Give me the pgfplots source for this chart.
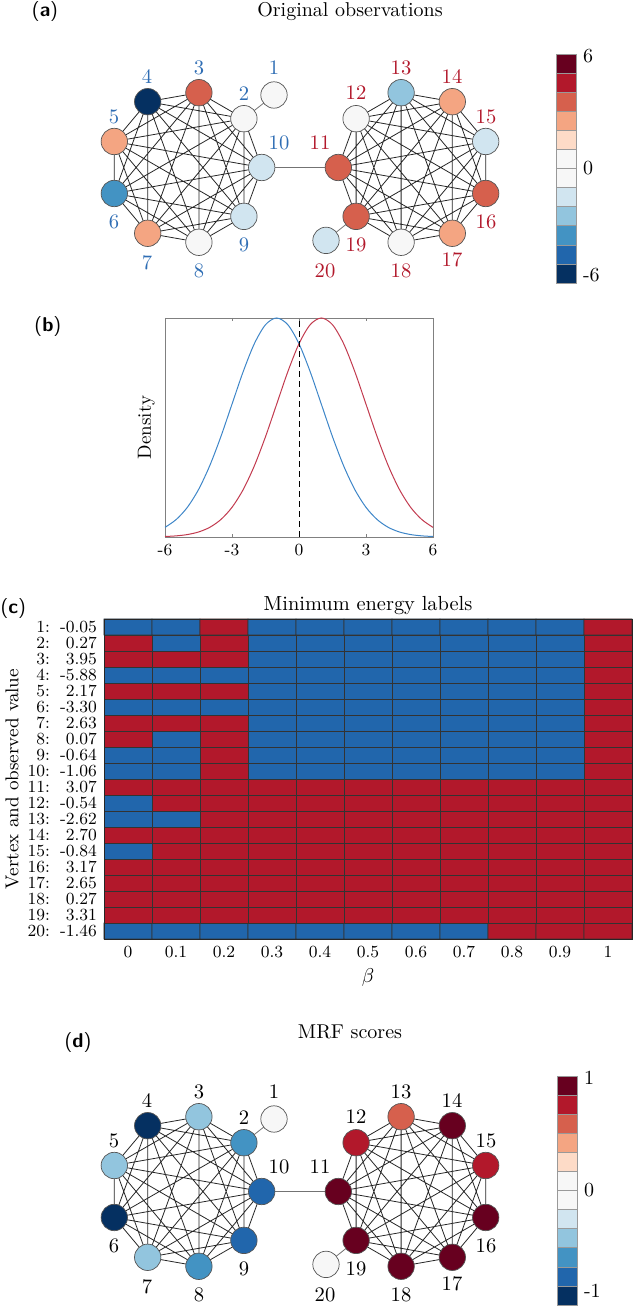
\documentclass[border=0pt]{standalone}
\usepackage{pgfplots}
\pgfplotsset{compat=1.18}
\usepackage{pgfplotstable}
\definecolor{c1}{HTML}{053061}
\definecolor{c2}{HTML}{2166AC}
\definecolor{c3}{HTML}{4393C3}
\definecolor{c4}{HTML}{92C5DE}
\definecolor{c5}{HTML}{D1E5F0}
\definecolor{c6}{HTML}{F7F7F7}
\definecolor{c7}{HTML}{F7F7F7}
\definecolor{c8}{HTML}{FDDBC7}
\definecolor{c9}{HTML}{F4A582}
\definecolor{c10}{HTML}{D6604D}
\definecolor{c11}{HTML}{B2182B}
\definecolor{c12}{HTML}{67001F}
\definecolor{nodeedge}{HTML}{555555}
\definecolor{labblue}{HTML}{2E6DB4}
\definecolor{labred}{HTML}{B2182B}
\definecolor{cellblue}{HTML}{2166AC}
\definecolor{cellred}{HTML}{B2182B}
\definecolor{curveblue}{HTML}{3E86C8}
\definecolor{curvered}{HTML}{C23B4F}
\newcommand{\fs}[1]{\fontsize{#1}{#1}\selectfont}
\newcommand{\vl}[2]{\makebox[11.5pt][r]{#1:}\makebox[23.5pt][r]{#2}}

\pgfplotsset{
 graphax/.style={scale only axis, width=316.5pt, height=145pt, xmin=0, xmax=633,
   ymin=-290, ymax=0, hide axis, clip=false, anchor=south west},
 nodecls/.style={scatter, only marks, mark=*, mark size=6.6pt, point meta=explicit symbolic,
   scatter/classes={
     k1={fill=c1,draw=nodeedge}, k2={fill=c2,draw=nodeedge}, k3={fill=c3,draw=nodeedge},
     k4={fill=c4,draw=nodeedge}, k5={fill=c5,draw=nodeedge}, k6={fill=c6,draw=nodeedge},
     k8={fill=c8,draw=nodeedge}, k9={fill=c9,draw=nodeedge}, k10={fill=c10,draw=nodeedge},
     k11={fill=c11,draw=nodeedge}, k12={fill=c12,draw=nodeedge}},
   every mark/.append style={line width=0.35pt}},
 labcls/.style={only marks, mark=none, point meta=explicit symbolic, nodes near coords,
   every node near coord/.style={anchor=center, inner sep=0pt, font=\fs{10.3}, text=#1}},
 cbar/.style={scale only axis, width=10pt, height=114.5pt, anchor=south west,
   xmin=-0.5, xmax=0.5, ymin=0, ymax=12, ybar stacked, bar width=10pt,
   xtick=\empty, ytick={0.4,6,11.9}, yticklabel pos=right, axis line style={draw=none},
   major tick length=0pt, tick label style={font=\fs{10}}, clip=false,
   every axis plot/.append style={draw=black!40, line width=0.3pt}},
}

\pgfplotstableread{
x y ca cd
274.0 -95.0 k6 k6
243.9 -118.7 k6 k3
198.9 -92.7 k10 k4
147.7 -101.7 k1 k1
114.3 -141.5 k9 k4
114.3 -193.5 k3 k1
147.7 -233.3 k9 k4
198.9 -242.3 k6 k3
243.9 -216.4 k5 k2
261.7 -167.5 k5 k2
338.3 -167.5 k10 k12
356.1 -118.7 k6 k11
401.1 -92.7 k4 k10
452.3 -101.7 k9 k12
485.7 -141.5 k5 k11
485.7 -193.5 k10 k12
452.3 -233.3 k9 k12
401.1 -242.3 k6 k12
356.1 -216.4 k10 k12
326.0 -240.4 k5 k6
}\nodetab

\pgfplotstableread{
x y lab
274 -68 1
244 -94 2
199 -68 3
147 -77 4
114 -117 5
114 -222 6
147 -263 7
199 -271 8
244 -245 9
279 -143 10
}\labL
\pgfplotstableread{
x y lab
320 -143 11
356 -93 12
401 -68 13
452 -77 14
486 -117 15
486 -222 16
452 -260 17
401 -271 18
356 -245 19
325 -271 20
}\labR

\pgfplotstableread{
x y
261.7 -167.5
243.9 -118.7
114.3 -141.5
198.9 -242.3
243.9 -118.7
198.9 -92.7
114.3 -193.5
243.9 -216.4
198.9 -92.7
147.7 -101.7
114.3 -141.5
114.3 -193.5
147.7 -233.3
198.9 -242.3
243.9 -216.4
261.7 -167.5
198.9 -92.7
114.3 -141.5
147.7 -233.3
243.9 -216.4
243.9 -118.7
147.7 -101.7
114.3 -193.5
198.9 -242.3
261.7 -167.5
114.3 -141.5
243.9 -216.4
147.7 -101.7
198.9 -242.3
198.9 -92.7
147.7 -233.3
243.9 -118.7
114.3 -193.5
261.7 -167.5
147.7 -101.7
147.7 -233.3
261.7 -167.5
}\edgeL

\pgfplotstableread{
x y
338.3 -167.5
356.1 -118.7
485.7 -141.5
401.1 -242.3
356.1 -118.7
401.1 -92.7
485.7 -193.5
356.1 -216.4
401.1 -92.7
452.3 -101.7
485.7 -141.5
485.7 -193.5
452.3 -233.3
401.1 -242.3
356.1 -216.4
338.3 -167.5
401.1 -92.7
485.7 -141.5
452.3 -233.3
356.1 -216.4
356.1 -118.7
452.3 -101.7
485.7 -193.5
401.1 -242.3
338.3 -167.5
485.7 -141.5
356.1 -216.4
452.3 -101.7
401.1 -242.3
401.1 -92.7
452.3 -233.3
356.1 -118.7
485.7 -193.5
338.3 -167.5
452.3 -101.7
452.3 -233.3
338.3 -167.5
}\edgeR

\pgfplotstableread{
x y
274.0 -95.0
243.9 -118.7
}\edgeA
\pgfplotstableread{
x y
261.7 -167.5
338.3 -167.5
}\edgeB
\pgfplotstableread{
x y
356.1 -216.4
326.0 -240.4
}\edgeC

\pgfplotstableread{
x y
-6 0.0439
-5.5 0.0796
-5 0.1353
-4.5 0.2163
-4 0.3247
-3.5 0.4578
-3 0.6065
-2.5 0.7548
-2 0.8825
-1.5 0.9692
-1 1
-0.5 0.9692
0 0.8825
0.5 0.7548
1 0.6065
1.5 0.4578
2 0.3247
2.5 0.2163
3 0.1353
3.5 0.0796
4 0.0439
4.5 0.0228
5 0.0111
5.5 0.0051
6 0.0022
}\densB
\pgfplotstableread{
x y
-6 0.0022
-5.5 0.0051
-5 0.0111
-4.5 0.0228
-4 0.0439
-3.5 0.0796
-3 0.1353
-2.5 0.2163
-2 0.3247
-1.5 0.4578
-1 0.6065
-0.5 0.7548
0 0.8825
0.5 0.9692
1 1
1.5 0.9692
2 0.8825
2.5 0.7548
3 0.6065
3.5 0.4578
4 0.3247
4.5 0.2163
5 0.1353
5.5 0.0796
6 0.0439
}\densR

\pgfplotstableread[row sep=\\]{
x y c\\
0 1 0\\ 1 1 0\\ 2 1 0\\ 3 1 0\\ 4 1 0\\ 5 1 0\\ 6 1 0\\ 7 1 0\\ 8 1 1\\ 9 1 1\\ 10 1 1\\
0 2 1\\ 1 2 1\\ 2 2 1\\ 3 2 1\\ 4 2 1\\ 5 2 1\\ 6 2 1\\ 7 2 1\\ 8 2 1\\ 9 2 1\\ 10 2 1\\
0 3 1\\ 1 3 1\\ 2 3 1\\ 3 3 1\\ 4 3 1\\ 5 3 1\\ 6 3 1\\ 7 3 1\\ 8 3 1\\ 9 3 1\\ 10 3 1\\
0 4 1\\ 1 4 1\\ 2 4 1\\ 3 4 1\\ 4 4 1\\ 5 4 1\\ 6 4 1\\ 7 4 1\\ 8 4 1\\ 9 4 1\\ 10 4 1\\
0 5 1\\ 1 5 1\\ 2 5 1\\ 3 5 1\\ 4 5 1\\ 5 5 1\\ 6 5 1\\ 7 5 1\\ 8 5 1\\ 9 5 1\\ 10 5 1\\
0 6 0\\ 1 6 1\\ 2 6 1\\ 3 6 1\\ 4 6 1\\ 5 6 1\\ 6 6 1\\ 7 6 1\\ 8 6 1\\ 9 6 1\\ 10 6 1\\
0 7 1\\ 1 7 1\\ 2 7 1\\ 3 7 1\\ 4 7 1\\ 5 7 1\\ 6 7 1\\ 7 7 1\\ 8 7 1\\ 9 7 1\\ 10 7 1\\
0 8 0\\ 1 8 0\\ 2 8 1\\ 3 8 1\\ 4 8 1\\ 5 8 1\\ 6 8 1\\ 7 8 1\\ 8 8 1\\ 9 8 1\\ 10 8 1\\
0 9 0\\ 1 9 1\\ 2 9 1\\ 3 9 1\\ 4 9 1\\ 5 9 1\\ 6 9 1\\ 7 9 1\\ 8 9 1\\ 9 9 1\\ 10 9 1\\
0 10 1\\ 1 10 1\\ 2 10 1\\ 3 10 1\\ 4 10 1\\ 5 10 1\\ 6 10 1\\ 7 10 1\\ 8 10 1\\ 9 10 1\\ 10 10 1\\
0 11 0\\ 1 11 0\\ 2 11 1\\ 3 11 0\\ 4 11 0\\ 5 11 0\\ 6 11 0\\ 7 11 0\\ 8 11 0\\ 9 11 0\\ 10 11 1\\
0 12 0\\ 1 12 0\\ 2 12 1\\ 3 12 0\\ 4 12 0\\ 5 12 0\\ 6 12 0\\ 7 12 0\\ 8 12 0\\ 9 12 0\\ 10 12 1\\
0 13 1\\ 1 13 0\\ 2 13 1\\ 3 13 0\\ 4 13 0\\ 5 13 0\\ 6 13 0\\ 7 13 0\\ 8 13 0\\ 9 13 0\\ 10 13 1\\
0 14 1\\ 1 14 1\\ 2 14 1\\ 3 14 0\\ 4 14 0\\ 5 14 0\\ 6 14 0\\ 7 14 0\\ 8 14 0\\ 9 14 0\\ 10 14 1\\
0 15 0\\ 1 15 0\\ 2 15 0\\ 3 15 0\\ 4 15 0\\ 5 15 0\\ 6 15 0\\ 7 15 0\\ 8 15 0\\ 9 15 0\\ 10 15 1\\
0 16 1\\ 1 16 1\\ 2 16 1\\ 3 16 0\\ 4 16 0\\ 5 16 0\\ 6 16 0\\ 7 16 0\\ 8 16 0\\ 9 16 0\\ 10 16 1\\
0 17 0\\ 1 17 0\\ 2 17 0\\ 3 17 0\\ 4 17 0\\ 5 17 0\\ 6 17 0\\ 7 17 0\\ 8 17 0\\ 9 17 0\\ 10 17 1\\
0 18 1\\ 1 18 1\\ 2 18 1\\ 3 18 0\\ 4 18 0\\ 5 18 0\\ 6 18 0\\ 7 18 0\\ 8 18 0\\ 9 18 0\\ 10 18 1\\
0 19 1\\ 1 19 0\\ 2 19 1\\ 3 19 0\\ 4 19 0\\ 5 19 0\\ 6 19 0\\ 7 19 0\\ 8 19 0\\ 9 19 0\\ 10 19 1\\
0 20 0\\ 1 20 0\\ 2 20 1\\ 3 20 0\\ 4 20 0\\ 5 20 0\\ 6 20 0\\ 7 20 0\\ 8 20 0\\ 9 20 0\\ 10 20 1\\
}\heat

\begin{document}
\begin{tikzpicture}
\useasboundingbox (0,0) rectangle (316.5pt,655.5pt);

% ---------- (a) graph ----------
\begin{axis}[graphax, at={(0pt,510.5pt)}]
\addplot[black!85, line width=0.4pt, line join=round, mark=none] table {\edgeL};
\addplot[black!85, line width=0.4pt, line join=round, mark=none] table {\edgeR};
\addplot[black!55, line width=0.4pt, mark=none] table {\edgeA};
\addplot[black!55, line width=0.4pt, mark=none] table {\edgeB};
\addplot[black!55, line width=0.4pt, mark=none] table {\edgeC};
\addplot[nodecls] table[x=x, y=y, meta=ca] {\nodetab};
\addplot[labcls=labblue] table[x=x, y=y, meta=lab] {\labL};
\addplot[labcls=labred] table[x=x, y=y, meta=lab] {\labR};
\node[font=\fs{10}] at (axis cs:350,-12) {Original observations};
\node[font=\fs{10}\sffamily] at (axis cs:45,-12) {(\textbf{a})};
\end{axis}

% colorbar (a)
\begin{axis}[cbar, at={(278pt,514pt)}, yticklabels={-6,0,6}]
\addplot[fill=c1] coordinates {(0,1)};
\addplot[fill=c2] coordinates {(0,1)};
\addplot[fill=c3] coordinates {(0,1)};
\addplot[fill=c4] coordinates {(0,1)};
\addplot[fill=c5] coordinates {(0,1)};
\addplot[fill=c6] coordinates {(0,1)};
\addplot[fill=c7] coordinates {(0,1)};
\addplot[fill=c8] coordinates {(0,1)};
\addplot[fill=c9] coordinates {(0,1)};
\addplot[fill=c10] coordinates {(0,1)};
\addplot[fill=c11] coordinates {(0,1)};
\addplot[fill=c12] coordinates {(0,1)};
\end{axis}

% ---------- (b) density ----------
\begin{axis}[scale only axis, width=134pt, height=109.5pt, at={(82.5pt,387pt)}, anchor=south west,
  xmin=-6, xmax=6, ymin=0, ymax=1, xtick={-6,-3,0,3,6}, xticklabels={-6,-3,0,3,6},
  ytick=\empty, axis line style={black!50}, tick style={black!50}, major tick length=1.6pt,
  tick label style={font=\fs{8.5}}, clip=false]
\addplot[curveblue, line width=0.5pt, smooth, mark=none] table {\densB};
\addplot[curvered, line width=0.5pt, smooth, mark=none] table {\densR};
\addplot[black, line width=0.4pt, dash pattern=on 3pt off 2pt, mark=none] coordinates {(0,0) (0,1)};
\node[rotate=90, font=\fs{9.5}] at (rel axis cs:-0.07,0.5) {Density};
\node[font=\fs{10}\sffamily] at (rel axis cs:-0.437,0.959) {(\textbf{b})};
\end{axis}

% ---------- (c) heatmap ----------
\begin{axis}[scale only axis, width=264pt, height=160pt, at={(52pt,186pt)}, anchor=south west,
  xmin=-0.5, xmax=10.5, ymin=0.5, ymax=20.5,
  xtick={0,1,2,3,4,5,6,7,8,9,10},
  xticklabels={0,0.1,0.2,0.3,0.4,0.5,0.6,0.7,0.8,0.9,1},
  ytick={1,2,3,4,5,6,7,8,9,10,11,12,13,14,15,16,17,18,19,20},
  yticklabels={\vl{20}{-1.46},\vl{19}{3.31},\vl{18}{0.27},\vl{17}{2.65},\vl{16}{3.17},
    \vl{15}{-0.84},\vl{14}{2.70},\vl{13}{-2.62},\vl{12}{-0.54},\vl{11}{3.07},
    \vl{10}{-1.06},\vl{9}{-0.64},\vl{8}{0.07},\vl{7}{2.63},\vl{6}{-3.30},
    \vl{5}{2.17},\vl{4}{-5.88},\vl{3}{3.95},\vl{2}{0.27},\vl{1}{-0.05}},
  major tick length=0pt, tick label style={font=\fs{8.5}},
  colormap={rb}{color=(cellblue) color=(cellred)}, point meta min=0, point meta max=1,
  axis line style={black!85}, axis on top, clip=false]
\addplot[matrix plot*, mesh/cols=11, point meta=explicit, shader=faceted, faceted color=black!80] table[meta=c] {\heat};
\node[font=\fs{10.2}] at (rel axis cs:0.5,1) [yshift=6.5pt] {Minimum energy labels};
\node[font=\fs{10}\sffamily] at (rel axis cs:-0.172,1.034) {(\textbf{c})};
\node[rotate=90, font=\fs{9.3}] at (rel axis cs:-0.174,0.5) {Vertex and observed value};
\node[font=\fs{10}] at (rel axis cs:0.5,-0.119) {$\beta$};
\end{axis}

% ---------- (d) graph ----------
\begin{axis}[graphax, at={(0pt,-1.5pt)}]
\addplot[black!85, line width=0.4pt, line join=round, mark=none] table {\edgeL};
\addplot[black!85, line width=0.4pt, line join=round, mark=none] table {\edgeR};
\addplot[black!55, line width=0.4pt, mark=none] table {\edgeA};
\addplot[black!55, line width=0.4pt, mark=none] table {\edgeB};
\addplot[black!55, line width=0.4pt, mark=none] table {\edgeC};
\addplot[nodecls] table[x=x, y=y, meta=cd] {\nodetab};
\addplot[labcls=black] table[x=x, y=y, meta=lab] {\labL};
\addplot[labcls=black] table[x=x, y=y, meta=lab] {\labR};
\node[font=\fs{10}] at (axis cs:350,-8) {MRF scores};
\node[font=\fs{10}\sffamily] at (axis cs:78,-19) {(\textbf{d})};
\end{axis}

% colorbar (d)
\begin{axis}[cbar, at={(278.5pt,3pt)}, ytick={0.75,6,11.9}, yticklabels={-1,0,1}]
\addplot[fill=c1] coordinates {(0,1)};
\addplot[fill=c2] coordinates {(0,1)};
\addplot[fill=c3] coordinates {(0,1)};
\addplot[fill=c4] coordinates {(0,1)};
\addplot[fill=c5] coordinates {(0,1)};
\addplot[fill=c6] coordinates {(0,1)};
\addplot[fill=c7] coordinates {(0,1)};
\addplot[fill=c8] coordinates {(0,1)};
\addplot[fill=c9] coordinates {(0,1)};
\addplot[fill=c10] coordinates {(0,1)};
\addplot[fill=c11] coordinates {(0,1)};
\addplot[fill=c12] coordinates {(0,1)};
\end{axis}
\end{tikzpicture}
\end{document}
